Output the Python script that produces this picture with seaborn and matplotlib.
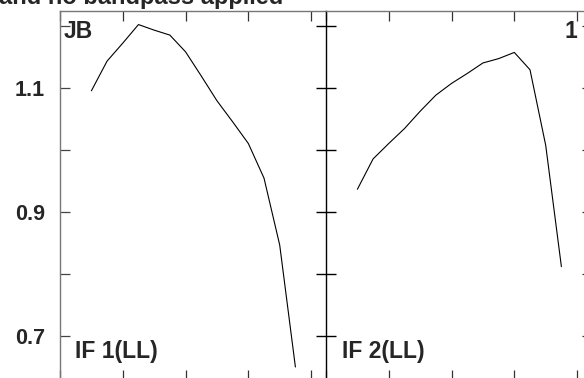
"""
Bandpass amplitude per channel, two IFs side by side (AIPS-like frame).
"""

import matplotlib.pyplot as plt
import matplotlib as mpl
import seaborn as sns
import pandas as pd

W, H = 584, 378

channels = [2, 3, 4, 5, 6, 7, 8, 9, 10, 11, 12, 13, 14, 15]
amp_if1 = [1.096, 1.144, 1.173, 1.203, 1.194, 1.186, 1.159, 1.120,
           1.080, 1.046, 1.011, 0.955, 0.847, 0.650]
amp_if2 = [0.937, 0.986, 1.011, 1.035, 1.063, 1.089, 1.108, 1.124,
           1.141, 1.148, 1.158, 1.130, 1.008, 0.812]
panel_labels = ["IF 1(LL)", "IF 2(LL)"]
xticks = [0, 4, 8, 12, 16]
yticks = [0.7, 0.8, 0.9, 1.0, 1.1, 1.2]
ytick_labels = ["0.7", "", "0.9", "", "1.1", ""]

sns.set_style("ticks")
mpl.rcParams.update(
    {
        "font.family": ["Liberation Sans", "DejaVu Sans"],
        "font.weight": "bold",
        "axes.facecolor": "white",
        "figure.facecolor": "white",
    }
)

XLIM = (0, 16.95)
YLIM = (0.629, 1.2249)


def rect(x0, y0, x1, y1):
    """pixel box -> figure fraction [left, bottom, width, height]"""
    return [x0 / W, 1 - y1 / H, (x1 - x0) / W, (y1 - y0) / H]


fig = plt.figure(figsize=(W / 100, H / 100), dpi=100)
ax1 = fig.add_axes(rect(60, 11, 326, 380))
ax2 = fig.add_axes(rect(326, 11, 592, 380))

for ax, amp in [(ax1, amp_if1), (ax2, amp_if2)]:
    df = pd.DataFrame({"chan": channels, "amp": amp})
    sns.lineplot(data=df, x="chan", y="amp", ax=ax, color="black",
                 linewidth=0.8, sort=False)
    ax.set_xlim(*XLIM)
    ax.set_ylim(*YLIM)
    ax.set_xticks(xticks)
    ax.set_yticks(yticks)
    ax.set_xlabel("")
    ax.set_ylabel("")
    ax.tick_params(axis="x", direction="in", length=7.2, width=0.9,
                   top=True, bottom=True, labelbottom=False, color="#333333")
    for s in ax.spines.values():
        s.set_linewidth(1.0)
        s.set_color("#777777")

# left panel: labelled y axis
ax1.set_yticklabels(ytick_labels)
ax1.tick_params(axis="y", direction="in", length=7.2, width=0.9,
                left=True, right=False, pad=10.8, labelsize=15.5,
                color="#444444")
ax1.spines["right"].set_visible(False)

# right panel: shared black divider with ticks on both sides
ax2.set_yticklabels([])
ax2.tick_params(axis="y", direction="inout", length=14.4, width=1.0,
                left=True, right=False, labelleft=False, color="black")
ax2.spines["left"].set_color("black")
ax2.spines["right"].set_color("black")
ax2r = ax2.secondary_yaxis("right")
ax2r.set_yticks(yticks)
ax2r.set_yticklabels([])
ax2r.tick_params(direction="in", length=7.2, width=0.9, color="#333333")

# text
fig.text(-1 / W, 1 - 4 / H, "and no bandpass applied", fontsize=17,
         fontweight="bold", va="baseline", ha="left")
fig.text(64 / W, 1 - 37.5 / H, "JB", fontsize=16.5, fontweight="bold",
         va="baseline")
fig.text(565 / W, 1 - 38 / H, "1", fontsize=16.5, fontweight="bold",
         va="baseline")
fig.text(75 / W, 1 - 358 / H, panel_labels[0], fontsize=16.5,
         fontweight="bold", va="baseline")
fig.text(342 / W, 1 - 358 / H, panel_labels[1], fontsize=16.5,
         fontweight="bold", va="baseline")

fig.savefig("out.png", dpi=100)
